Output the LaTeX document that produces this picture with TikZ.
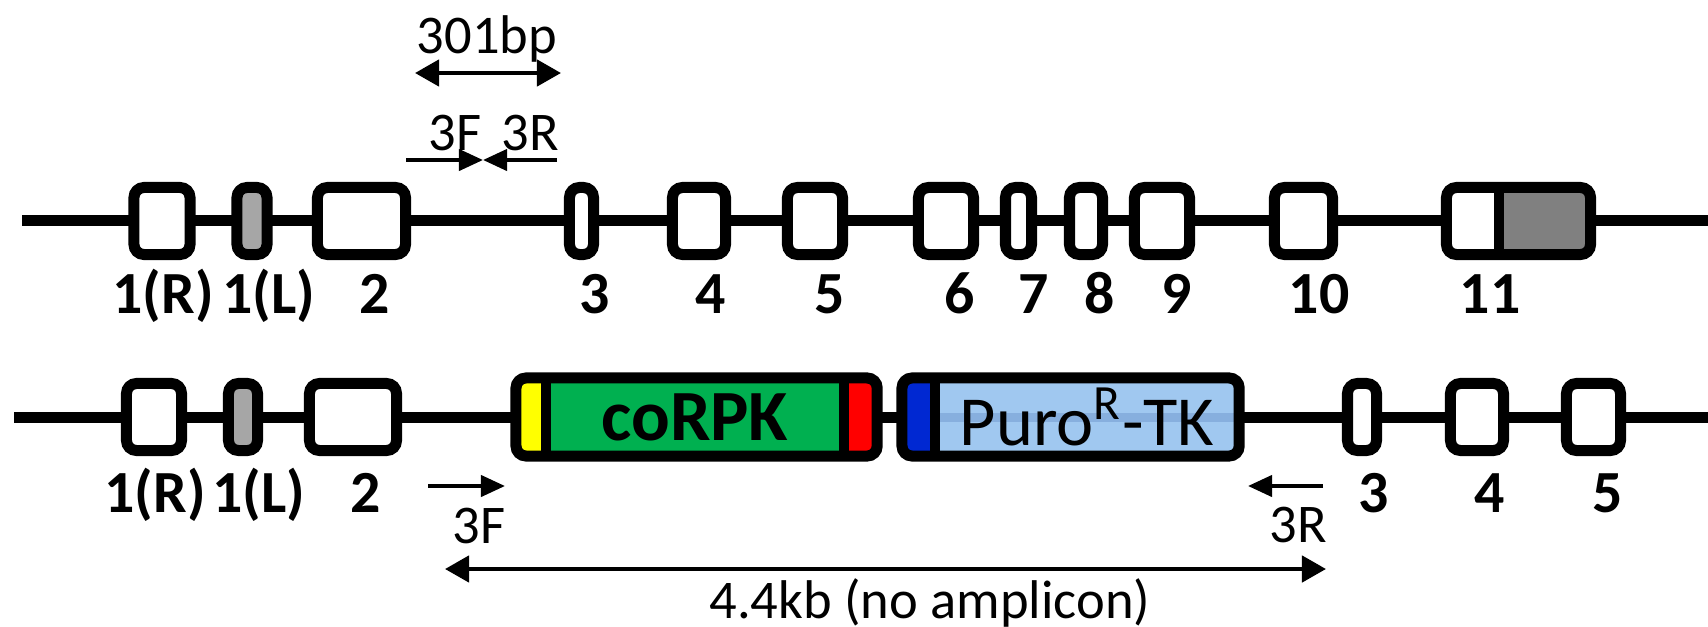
\documentclass[tikz,border=0pt]{standalone}
\usepackage{fontspec}
\setmainfont{Carlito}
\usetikzlibrary{arrows.meta,positioning}
\definecolor{exongray}{RGB}{166,166,166}
\definecolor{utrgray}{RGB}{128,128,128}
\definecolor{coyellow}{RGB}{255,255,0}
\definecolor{cogreen}{RGB}{0,176,80}
\definecolor{cored}{RGB}{255,0,0}
\definecolor{puroblue}{RGB}{0,40,210}
\definecolor{purolight}{RGB}{160,200,240}
\definecolor{puroband}{RGB}{135,175,222}

\begin{document}
\begin{tikzpicture}[x=0.01cm,y=-0.01cm,
  exon/.style={draw,line width=0.11cm,rounded corners=0.10cm,fill=white,minimum height=0.67cm,inner sep=0pt,outer sep=0pt},
  seg/.style={minimum height=0.78cm,inner sep=0pt,outer sep=0pt},
  lbl/.style={anchor=base,font=\fontsize{17}{20}\selectfont\bfseries},
  txt/.style={anchor=base,font=\fontsize{15.5}{18}\selectfont},
  backbone/.style={line width=0.11cm},
  divider/.style={line width=0.10cm},
  cassette/.style={line width=0.11cm,rounded corners=0.10cm},
  primer/.style={line width=0.04cm,-{Triangle[length=0.24cm,width=0.21cm]}},
  span/.style={line width=0.045cm,{Triangle[length=0.24cm,width=0.26cm]}-{Triangle[length=0.24cm,width=0.26cm]}}]

\useasboundingbox (0,0) rectangle (1708,627);

% wild type allele
\coordinate (wtL) at (22,220);
\coordinate (wtR) at (1708,220);
\draw[backbone] (wtL) -- (wtR);
\node[exon,minimum width=0.56cm] (w1R) at (162,221) {};
\node[exon,minimum width=0.30cm,fill=exongray] (w1L) at (252,221) {};
\node[exon,minimum width=0.88cm] (w2) at (361.5,221) {};
\node[exon,minimum width=0.24cm] (w3) at (581.5,221) {};
\node[exon,minimum width=0.53cm] (w4) at (699,221) {};
\node[exon,minimum width=0.55cm] (w5) at (815,221) {};
\node[exon,minimum width=0.55cm] (w6) at (946,221) {};
\node[exon,minimum width=0.26cm] (w7) at (1018.5,221) {};
\node[exon,minimum width=0.33cm] (w8) at (1086,221) {};
\node[exon,minimum width=0.55cm] (w9) at (1162,221) {};
\node[exon,minimum width=0.58cm] (w10) at (1303.5,221) {};
\node[exon,minimum width=1.44cm,path picture={
  \fill[utrgray] ([xshift=-0.195cm]path picture bounding box.north) rectangle (path picture bounding box.south east);
  \draw[divider] ([xshift=-0.195cm]path picture bounding box.north) -- ([xshift=-0.195cm]path picture bounding box.south);}] (w11) at (1518.5,221) {};

\node[lbl] (lw1R) at (163,313) {1(R)};
\node[lbl] (lw1L) at (269,313) {1(L)};
\node[lbl] (lw2) at (375,313) {2};
\node[lbl] (lw3) at (595,313) {3};
\node[lbl] (lw4) at (711,313) {4};
\node[lbl] (lw5) at (830,313) {5};
\node[lbl] (lw6) at (960,313) {6};
\node[lbl] (lw7) at (1034,313) {7};
\node[lbl] (lw8) at (1100,313) {8};
\node[lbl] (lw9) at (1177,313) {9};
\node[lbl] (lw10) at (1319,313) {10};
\node[lbl] (lw11) at (1490,313) {11};

\node[txt] (bp) at (487,53) {301bp};
\coordinate (bpL) at (415,73);
\coordinate (bpR) at (561,73);
\draw[span] (bpL) -- (bpR);
\node[txt] (tF) at (455,150) {3F};
\node[txt] (tR) at (530,150) {3R};
\coordinate (tFs) at (406,160);
\coordinate (tmid) at (483,160);
\coordinate (tRs) at (557,160);
\draw[primer] (tFs) -- (tmid);
\draw[primer] (tRs) -- (tmid);

% targeted allele
\coordinate (kiL) at (14,417);
\coordinate (kiR) at (1708,417);
\draw[backbone] (kiL) -- (kiR);
\node[exon,minimum width=0.55cm] (k1R) at (154,417) {};
\node[exon,minimum width=0.29cm,fill=exongray] (k1L) at (243,417) {};
\node[exon,minimum width=0.87cm] (k2) at (353,417) {};
\node[exon,minimum width=0.29cm] (k3) at (1362,417) {};
\node[exon,minimum width=0.53cm] (k4) at (1477,417) {};
\node[exon,minimum width=0.54cm] (k5) at (1593.5,417) {};

\node[seg,fill=coyellow,minimum width=0.30cm] (yel) at (531,417) {};
\node[seg,fill=cogreen,minimum width=2.975cm,right=0pt of yel,font=\fontsize{20.5}{24}\selectfont\bfseries] (corpk) {coRPK};
\node[seg,fill=cored,minimum width=0.335cm,right=0pt of corpk] (red) {};
\draw[divider] (yel.north east) -- (yel.south east) (red.north west) -- (red.south west);
\draw[cassette] (yel.north west) rectangle (red.south east);

\node[seg,fill=puroblue,minimum width=0.33cm] (blu) at (918.5,417) {};
\node[seg,fill=purolight,minimum width=3.04cm,right=0pt of blu,font=\fontsize{20}{24}\selectfont,path picture={
  \fill[puroband] ([yshift=0.045cm]path picture bounding box.west) rectangle ([yshift=-0.045cm]path picture bounding box.east);}] (puro) {Puro\textsuperscript{R}-TK};
\draw[divider] (blu.north east) -- (blu.south east);
\draw[cassette] (blu.north west) rectangle (puro.south east);

\node[lbl] (lk1R) at (155,512) {1(R)};
\node[lbl] (lk1L) at (259,512) {1(L)};
\node[lbl] (lk2) at (366,512) {2};
\node[lbl] (lk3) at (1374,512) {3};
\node[lbl] (lk4) at (1490,512) {4};
\node[lbl] (lk5) at (1608,512) {5};

\coordinate (bFs) at (428,486);
\coordinate (bFe) at (505,486);
\coordinate (bRs) at (1323,486);
\coordinate (bRe) at (1248,486);
\draw[primer] (bFs) -- (bFe);
\draw[primer] (bRs) -- (bRe);
\node[txt] (bF) at (479,543) {3F};
\node[txt] (bR) at (1298,542) {3R};

\coordinate (ampL) at (445,569);
\coordinate (ampR) at (1326,569);
\draw[span] (ampL) -- (ampR);
\node[txt] (amp) at (930,618) {4.4kb (no amplicon)};
\end{tikzpicture}
\end{document}
